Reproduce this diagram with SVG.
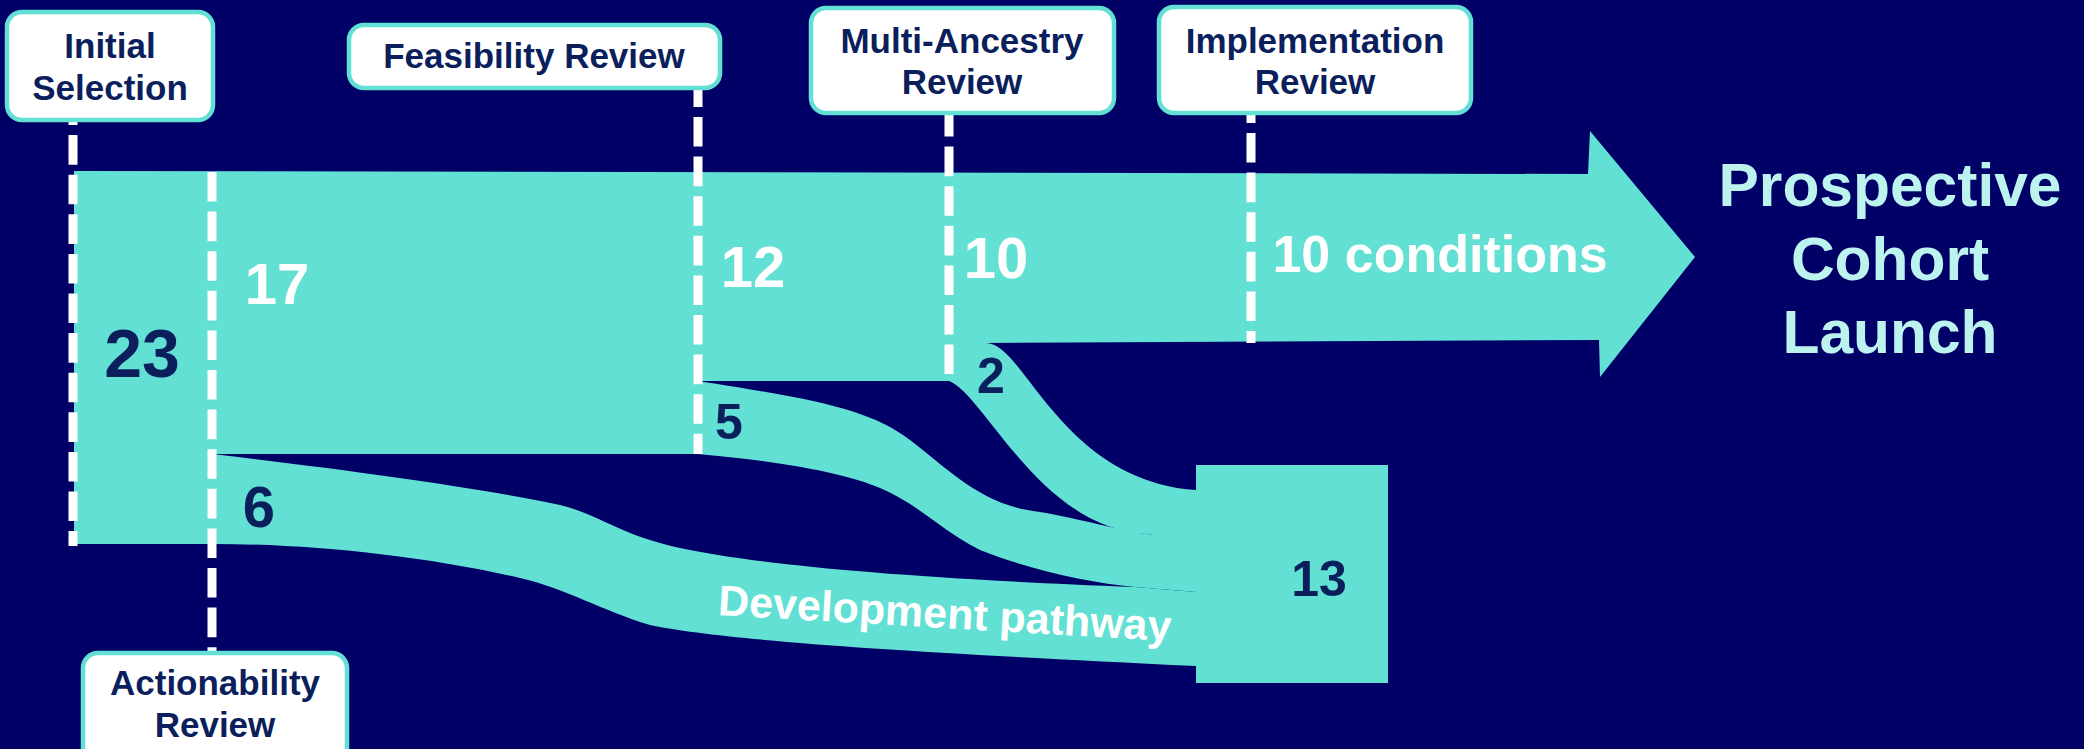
<svg xmlns="http://www.w3.org/2000/svg" width="2084" height="749" viewBox="0 0 2084 749">
<style>
.bg{fill:#000066}
.flow{fill:#62E0D4}
.stage rect{fill:#FFFFFF;stroke:#62E0D4;stroke-width:4.5}
.stage text{font-family:"Liberation Sans",Arial,sans-serif;font-weight:bold;font-size:35px;fill:#0B1F5C;text-anchor:middle}
.dash{stroke:#FFFFFF;stroke-width:9;stroke-dasharray:29.6 10;fill:none}
.num{font-family:"Liberation Sans",Arial,sans-serif;font-weight:bold;text-anchor:middle}
.w{fill:#FFFFFF}
.d{fill:#0B1F5C}
.big{font-family:"Liberation Sans",Arial,sans-serif;font-weight:bold;font-size:60.5px;fill:#BDF3EF;text-anchor:middle}
</style>
<rect class="bg" x="0" y="0" width="2084" height="749"/>

<g id="connectors">
  <path id="flow-main" class="flow" d="M74,171 L1588,174 L1590,131 L1695,257 L1600,377 L1599,340 L986,343 L949,343 L949,381 L698,381 L698,454 L212,454 L212,544 L74,544 Z"/>
  <path id="flow-2" class="flow" d="M949,343 L986,343 C1025,343 1060,480 1196,490 L1196,540 L1146,534 C1040,528 985,395 949,381 Z"/>
  <path id="flow-5" class="flow" d="M698,381 C820,400 870,410 910,440 C950,470 980,505 1040,512 C1080,519 1120,530 1146,534 L1196,538 L1196,592 L1135,587 C1090,583 1030,570 980,550 C940,530 920,505 880,488 C850,475 790,462 698,454 Z"/>
  <path id="flow-6" class="flow" d="M212,454 C350,470 480,488 560,505 C600,515 620,535 680,548 C760,565 900,578 1135,587 L1196,592 L1196,666 C900,652 720,640 650,625 C600,610 570,590 520,578 C420,555 300,543 202,544 L212,544 Z"/>
  <line class="dash" x1="73" y1="120" x2="73" y2="546" stroke-dashoffset="24.5"/>
  <line class="dash" x1="212" y1="172" x2="212" y2="653" stroke-dashoffset="0"/>
  <line class="dash" x1="698" y1="88" x2="698" y2="454" stroke-dashoffset="10.6"/>
  <line class="dash" x1="949" y1="113" x2="949" y2="374" stroke-dashoffset="6"/>
  <line class="dash" x1="1251" y1="113" x2="1251" y2="343" stroke-dashoffset="19.6"/>
</g>

<g id="node-13">
  <rect class="flow" x="1196" y="465" width="192" height="218"/>
  <text class="num d" x="1319" y="596" font-size="50">13</text>
</g>

<g id="stage-initial" class="stage">
  <rect x="7" y="12" width="206" height="108" rx="15"/>
  <text x="110" y="58">Initial</text>
  <text x="110" y="100">Selection</text>
</g>
<g id="stage-feasibility" class="stage">
  <rect x="349" y="25" width="371" height="63" rx="15"/>
  <text x="534" y="68">Feasibility Review</text>
</g>
<g id="stage-multi-ancestry" class="stage">
  <rect x="811" y="8" width="303" height="105" rx="15"/>
  <text x="962" y="53">Multi-Ancestry</text>
  <text x="962" y="94">Review</text>
</g>
<g id="stage-implementation" class="stage">
  <rect x="1159" y="7" width="312" height="106" rx="15"/>
  <text x="1315" y="53">Implementation</text>
  <text x="1315" y="94">Review</text>
</g>
<g id="stage-actionability" class="stage">
  <rect x="83" y="653" width="264" height="110" rx="15"/>
  <text x="215" y="695">Actionability</text>
  <text x="215" y="737">Review</text>
</g>

<g id="labels">
  <text class="num d" x="142" y="377" font-size="68">23</text>
  <text class="num w" x="277" y="304" font-size="58">17</text>
  <text class="num d" x="259" y="527" font-size="58">6</text>
  <text class="num w" x="753" y="287" font-size="58">12</text>
  <text class="num w" x="996" y="278" font-size="58">10</text>
  <text class="num w" x="1440" y="272" font-size="52">10 conditions</text>
  <text class="num d" x="991" y="393" font-size="50">2</text>
  <text class="num d" x="729" y="439" font-size="50">5</text>
  <text class="num w" font-size="43" transform="translate(944,628) rotate(3.3)" x="0" y="0">Development pathway</text>
</g>

<g id="node-launch">
  <text class="big" x="1890" y="206">Prospective</text>
  <text class="big" x="1890" y="280">Cohort</text>
  <text class="big" x="1890" y="353">Launch</text>
</g>
</svg>
